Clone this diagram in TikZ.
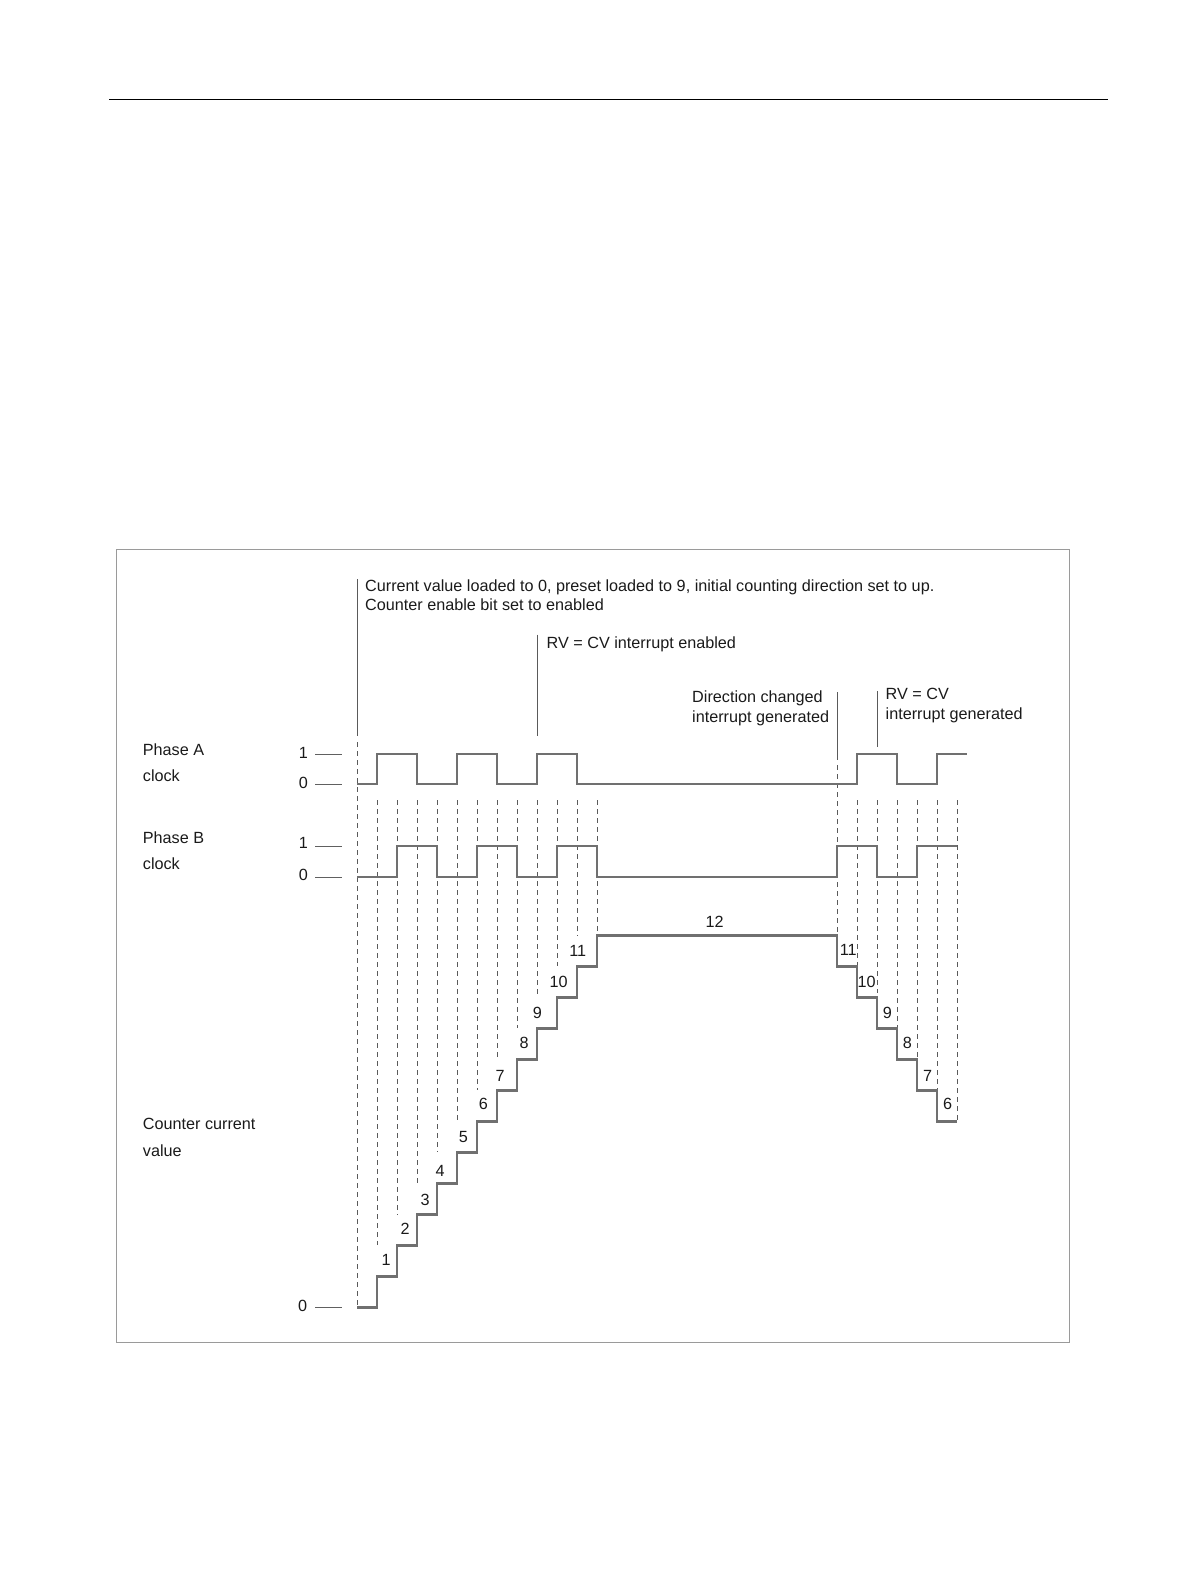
\documentclass[tikz,border=0pt]{standalone}
\usepackage{fontspec}
\setmainfont{Liberation Sans}
\definecolor{sigc}{HTML}{707070}
\definecolor{dshc}{HTML}{5A5A5A}
\definecolor{annc}{HTML}{5A5A5A}
\definecolor{tickc}{HTML}{606060}
\definecolor{framec}{HTML}{9A9A9A}
\definecolor{txtc}{HTML}{1A1A1A}
\begin{document}
\begin{tikzpicture}[x=1pt,y=-1pt,
  sig/.style={draw=sigc, line width=2.8pt, line join=miter},
  dsh/.style={draw=dshc, line width=0.9pt, dash pattern=on 5pt off 4pt},
  ann/.style={draw=annc, line width=1pt},
  tick/.style={draw=tickc, line width=1pt},
  lbl/.style={font=\fontsize{16.2}{19}\selectfont, text=txtc, inner sep=0pt, anchor=base west},
  num/.style={font=\fontsize{16.2}{19}\selectfont, text=txtc, inner sep=0pt, anchor=center},
]
\useasboundingbox (0,0) rectangle (1191,1587);

% top rule and frame
\draw[black, line width=0.9pt] (109,99) -- (1108,99);
\draw[framec, line width=1.5pt] (116.5,549.5) rectangle (1069.5,1342.5);

% annotation texts
\node[lbl] (t1) at (365,591.5) {Current value loaded to 0, preset loaded to 9, initial counting direction set to up.};
\node[lbl] (t2) at (365,610.5) {Counter enable bit set to enabled};
\node[lbl] (t3) at (546.5,648) {RV = CV interrupt enabled};
\node[lbl] (t4) at (692,702.5) {Direction changed};
\node[lbl] (t5) at (692,722) {interrupt generated};
\node[lbl] (t6) at (885.5,699.5) {RV = CV};
\node[lbl] (t7) at (885.5,719) {interrupt generated};

% row labels
\node[lbl] (pa1) at (142.7,755.5) {Phase A};
\node[lbl] (pa2) at (142.7,781.5) {clock};
\node[lbl] (pb1) at (142.7,843.5) {Phase B};
\node[lbl] (pb2) at (142.7,869.5) {clock};
\node[lbl] (cc1) at (142.7,1129.5) {Counter current};
\node[lbl] (cc2) at (142.7,1156) {value};

% level ticks
\node[num] (a1) at (303.3,753) {1};
\node[num] (a0) at (303.3,783) {0};
\node[num] (b1) at (303.3,843.3) {1};
\node[num] (b0) at (303.3,875) {0};
\node[num] (c0) at (302.6,1305.5) {0};
\draw[tick] (315,754) -- (342,754);
\draw[tick] (315,784) -- (342,784);
\draw[tick] (315,846) -- (342,846);
\draw[tick] (315,877) -- (342,877);
\draw[tick] (315,1307.3) -- (342,1307.3);

% annotation lines
\draw[ann] (357,579) -- (357,736);
\draw[ann] (537,634.5) -- (537,736);
\draw[ann] (837,692) -- (837,760);
\draw[ann] (877,691) -- (877,747);

% dashed lines (left)
\draw[dsh] (357,742) -- (357,1307.3);
\draw[dsh] (377,800) -- (377,1245.3);
\draw[dsh] (397,800) -- (397,1214.3);
\draw[dsh] (417,800) -- (417,1183.3);
\draw[dsh] (437,800) -- (437,1152.3);
\draw[dsh] (457,800) -- (457,1121.3);
\draw[dsh] (477,800) -- (477,1090.3);
\draw[dsh] (497,800) -- (497,1059.3);
\draw[dsh] (517,800) -- (517,1028.3);
\draw[dsh] (537,800) -- (537,997.3);
\draw[dsh] (557,800) -- (557,966.3);
\draw[dsh] (577,800) -- (577,935.3);
\draw[dsh] (597,800) -- (597,935.3);
% dashed lines (right)
\draw[dsh] (837,765) -- (837,935.3);
\draw[dsh] (857,800) -- (857,966.3);
\draw[dsh] (877,800) -- (877,993);
\draw[dsh] (897,800) -- (897,1028.3);
\draw[dsh] (917,800) -- (917,1059.3);
\draw[dsh] (937,800) -- (937,1090.3);
\draw[dsh] (957,800) -- (957,1121.3);

% Phase A
\draw[sig] (357,784) -- (377,784) -- (377,754) -- (417,754) -- (417,784) -- (457,784)
  -- (457,754) -- (497,754) -- (497,784) -- (537,784) -- (537,754) -- (577,754)
  -- (577,784) -- (857,784) -- (857,754) -- (897,754) -- (897,784) -- (937,784)
  -- (937,754) -- (967,754);
% Phase B
\draw[sig] (357,877) -- (397,877) -- (397,846) -- (437,846) -- (437,877) -- (477,877)
  -- (477,846) -- (517,846) -- (517,877) -- (557,877) -- (557,846) -- (597,846)
  -- (597,877) -- (837,877) -- (837,846) -- (877,846) -- (877,877) -- (917,877)
  -- (917,846) -- (957,846);
% Counter
\draw[sig] (357,1307.3) -- (377,1307.3) -- (377,1276.3) -- (397,1276.3) -- (397,1245.3)
  -- (417,1245.3) -- (417,1214.3) -- (437,1214.3) -- (437,1183.3) -- (457,1183.3)
  -- (457,1152.3) -- (477,1152.3) -- (477,1121.3) -- (497,1121.3) -- (497,1090.3)
  -- (517,1090.3) -- (517,1059.3) -- (537,1059.3) -- (537,1028.3) -- (557,1028.3)
  -- (557,997.3) -- (577,997.3) -- (577,966.3) -- (597,966.3) -- (597,935.3)
  -- (837,935.3) -- (837,966.3) -- (857,966.3) -- (857,997.3) -- (877,997.3)
  -- (877,1028.3) -- (897,1028.3) -- (897,1059.3) -- (917,1059.3) -- (917,1090.3)
  -- (937,1090.3) -- (937,1121.3) -- (957,1121.3);

% counter values (up)
\node[num] (u1) at (386,1260) {1};
\node[num] (u2) at (405,1229.3) {2};
\node[num] (u3) at (425,1200) {3};
\node[num] (u4) at (440,1170.7) {4};
\node[num] (u5) at (463.3,1137.3) {5};
\node[num] (u6) at (483.3,1104) {6};
\node[num] (u7) at (500,1076) {7};
\node[num] (u8) at (524,1042.7) {8};
\node[num] (u9) at (537.3,1012.7) {9};
\node[num] (u10) at (558.7,981.7) {10};
\node[num] (u11) at (577.7,950.7) {11};
\node[num] (u12) at (714.5,922) {12};
% counter values (down)
\node[num] (d11) at (848.3,950) {11};
\node[num] (d10) at (866.7,981.7) {10};
\node[num] (d9) at (887.3,1013.3) {9};
\node[num] (d8) at (907.3,1042.7) {8};
\node[num] (d7) at (927.7,1076) {7};
\node[num] (d6) at (947.7,1104) {6};
\end{tikzpicture}
\end{document}
